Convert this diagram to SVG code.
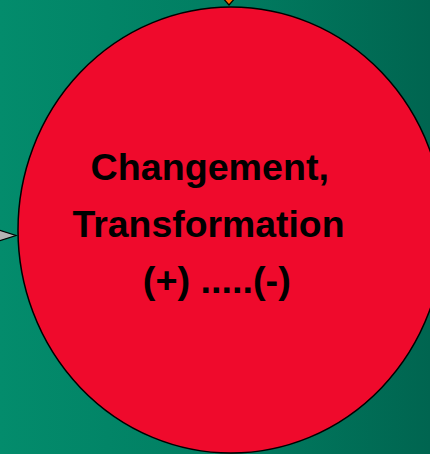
<svg xmlns="http://www.w3.org/2000/svg" width="430" height="454" viewBox="0 0 430 454">
  <defs>
    <linearGradient id="bg" x1="0" y1="0" x2="1" y2="0">
      <stop offset="0" stop-color="#038c6c"/>
      <stop offset="0.5" stop-color="#017e62"/>
      <stop offset="1" stop-color="#006550"/>
    </linearGradient>
    <style>
      .lbl { font-family: "Liberation Sans", Arial, sans-serif; font-weight: bold; font-size: 36.5px; fill: #000; }
      .arrow { stroke: #000; stroke-width: 1.2; stroke-linejoin: miter; }
    </style>
  </defs>
  <rect x="0" y="0" width="430" height="454" fill="url(#bg)"/>
  <g id="connectors">
    <polygon class="arrow" points="222,-3 236,-3 229,5" fill="#ff6600"/>
    <polygon class="arrow" points="-3,229.5 16,235.5 -3,241.5" fill="#b3b3b3"/>
  </g>
  <g id="node-changement">
    <ellipse cx="231" cy="230" rx="213" ry="223" fill="#ef0a2c" stroke="#000" stroke-width="1.5"/>
    <text class="lbl" x="90.5" y="180" textLength="238.5" lengthAdjust="spacingAndGlyphs">Changement,</text>
    <text class="lbl" x="72.5" y="237.3" textLength="272" lengthAdjust="spacingAndGlyphs">Transformation</text>
    <text class="lbl" x="142.8" y="293.3" textLength="148" lengthAdjust="spacingAndGlyphs">(+) .....(-)</text>
  </g>
</svg>
